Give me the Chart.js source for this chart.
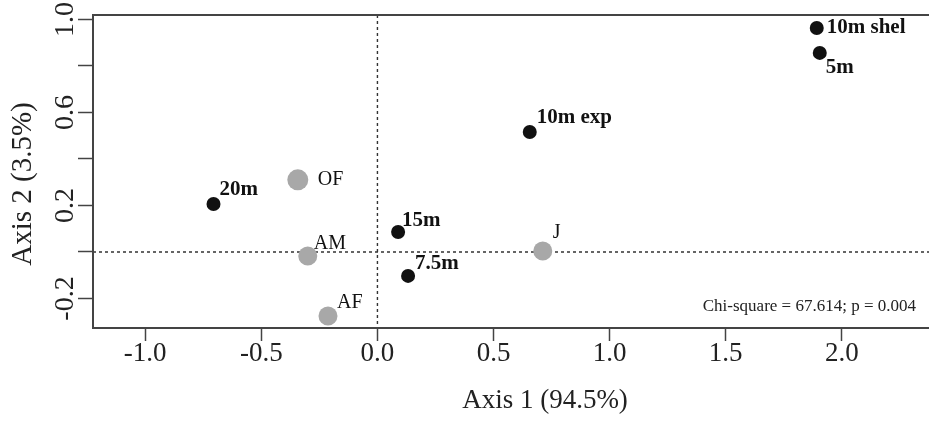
<!DOCTYPE html>
<html>
<head>
<meta charset="utf-8">
<script src="https://cdn.jsdelivr.net/npm/chart.js@4"></script>
<style>
  html, body { margin: 0; padding: 0; background: #fff; overflow: hidden; }
</style>
</head>
<body>
<canvas id="ordination" width="1000" height="423"></canvas>
<script>
  // site scores (black) and group scores (grey)
  const siteLabels = ['10m shel', '5m', '10m exp', '20m', '15m', '7.5m'];
  const siteX = [1.892, 1.905, 0.656, -0.706, 0.089, 0.132];
  const siteY = [0.963, 0.856, 0.516, 0.206, 0.086, -0.103];

  const groupLabels = ['OF', 'AM', 'AF', 'J'];
  const groupX = [-0.343, -0.300, -0.213, 0.712];
  const groupY = [0.310, -0.017, -0.275, 0.004];

  const xTickMax = 2.0; // last labelled x tick
  const yTickLabels = ['1.0', '0.6', '0.2', '-0.2'];
  const xTitle = 'Axis 1 (94.5%)';
  const yTitle = 'Axis 2 (3.5%)';
  const statText = 'Chi-square = 67.614; p = 0.004';

  const SERIF = '"Liberation Serif", "DejaVu Serif", serif';

  // where each label sits relative to its point
  const labelOffsets = {
    '10m shel': [10, 0], '5m': [6, 15], '10m exp': [7, -14], '20m': [6, -14],
    '15m': [4, -11], '7.5m': [7, -12],
    'OF': [20, 0], 'AM': [6, -12], 'AF': [9, -13], 'J': [10, -18],
  };

  function toPoints(xs, ys) {
    return xs.map((x, i) => ({ x, y: ys[i] }));
  }

  const framePlugin = {
    id: 'frame',
    beforeDatasetsDraw(chart) {
      const { ctx, chartArea: a, scales } = chart;
      const x0 = scales.x.getPixelForValue(0);
      const y0 = scales.y.getPixelForValue(0);
      ctx.save();
      ctx.strokeStyle = '#333';
      ctx.lineWidth = 1.4;
      ctx.setLineDash([3, 3]);
      ctx.beginPath();
      ctx.moveTo(x0, a.top); ctx.lineTo(x0, a.bottom);
      ctx.moveTo(a.left, y0); ctx.lineTo(a.right, y0);
      ctx.stroke();
      ctx.restore();
    },
    afterDatasetsDraw(chart) {
      const { ctx, chartArea: a, scales } = chart;
      ctx.save();
      ctx.strokeStyle = '#444';
      ctx.lineWidth = 2;
      ctx.strokeRect(a.left, a.top, a.right - a.left, a.bottom - a.top);

      ctx.textBaseline = 'middle';
      ctx.textAlign = 'left';
      ctx.fillStyle = '#111';
      chart.data.datasets.forEach((ds, di) => {
        ctx.font = di === 0 ? 'bold 21px ' + SERIF : '20px ' + SERIF;
        chart.getDatasetMeta(di).data.forEach((pt, i) => {
          const name = ds.names[i];
          const off = labelOffsets[name] || [8, -12];
          ctx.fillText(name, pt.x + off[0], pt.y + off[1]);
        });
      });

      ctx.font = '17px ' + SERIF;
      ctx.textAlign = 'right';
      ctx.fillStyle = '#222';
      ctx.fillText(statText, 916, scales.y.getPixelForValue(-0.236));

      // axis titles
      ctx.fillStyle = '#222';
      ctx.textAlign = 'center';
      ctx.font = '27px ' + SERIF;
      ctx.fillText(xTitle, 545, 401);
      ctx.translate(23, 184);
      ctx.rotate(-Math.PI / 2);
      ctx.font = '29px ' + SERIF;
      ctx.fillText(yTitle, 0, 0);
      ctx.restore();
    },
  };

  new Chart(document.getElementById('ordination'), {
    type: 'scatter',
    data: {
      datasets: [
        {
          label: 'sites',
          names: siteLabels,
          data: toPoints(siteX, siteY),
          pointRadius: 7,
          pointBackgroundColor: '#111',
          pointBorderWidth: 0,
        },
        {
          label: 'groups',
          names: groupLabels,
          data: toPoints(groupX, groupY),
          pointRadius: (c) => (c.dataIndex === 0 ? 10.5 : 9.5),
          pointBackgroundColor: '#a8a8a8',
          pointBorderWidth: 0,
        },
      ],
    },
    options: {
      responsive: false,
      animation: false,
      events: [],
      layout: { padding: { top: 15, right: 3, left: 0, bottom: 0 } },
      plugins: { legend: { display: false }, tooltip: { enabled: false } },
      scales: {
        x: {
          type: 'linear',
          min: -1.225,
          max: 2.636,
          afterFit: (s) => { s.height = 95; s.paddingLeft = 0; s.paddingRight = 0; },
          border: { display: false },
          grid: { drawOnChartArea: false, tickLength: 13, tickColor: '#444', tickWidth: 1.5 },
          ticks: {
            stepSize: 0.5,
            includeBounds: false,
            autoSkip: false,
            maxRotation: 0,
            padding: -3,
            color: '#222',
            font: { family: SERIF, size: 27 },
            callback: (v) => (v <= xTickMax + 1e-9 ? v.toFixed(1) : ''),
          },
        },
        y: {
          type: 'linear',
          min: -0.327,
          max: 1.019,
          afterFit: (s) => { s.width = 93; s.paddingTop = 0; s.paddingBottom = 0; },
          border: { display: false },
          grid: { drawOnChartArea: false, tickLength: 15, tickColor: '#444', tickWidth: 1.5 },
          ticks: {
            stepSize: 0.2,
            includeBounds: false,
            autoSkip: false,
            minRotation: 90,
            maxRotation: 90,
            crossAlign: 'center',
            padding: -10,
            color: '#222',
            font: { family: SERIF, size: 28 },
            callback: (v) => {
              const s = (Math.abs(v) < 1e-9 ? 0 : v).toFixed(1);
              return yTickLabels.includes(s) ? s : '';
            },
          },
        },
      },
    },
    plugins: [framePlugin],
  });
</script>
</body>
</html>
